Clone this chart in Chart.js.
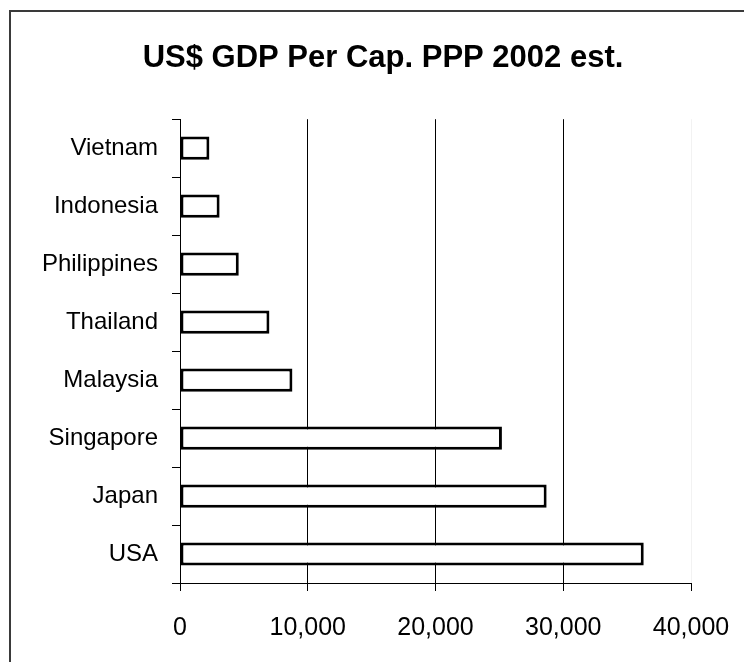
<!DOCTYPE html>
<html>
<head>
<meta charset="utf-8">
<script src="https://cdn.jsdelivr.net/npm/chart.js@4/dist/chart.umd.min.js"></script>
<style>
  html, body { margin: 0; padding: 0; background: #fff; overflow: hidden; }
</style>
</head>
<body>
<canvas id="gdpChart" width="800" height="662"></canvas>
<script>
const countries = ["Vietnam", "Indonesia", "Philippines", "Thailand", "Malaysia", "Singapore", "Japan", "USA"];
const gdpPerCap = [2300, 3100, 4600, 7000, 8800, 25200, 28700, 36300];
const xTicks = [0, 10000, 20000, 30000, 40000];

const FONT = "'Liberation Sans', Arial, sans-serif";

// dark frame on left and top edges, like the original picture
const framePlugin = {
    id: "frame",
    beforeDraw(chart) {
        const ctx = chart.ctx;
        ctx.save();
        ctx.fillStyle = "#fff";
        ctx.fillRect(0, 0, chart.width, chart.height);
        ctx.fillStyle = "#3a3a3a";
        ctx.fillRect(9, 10, 2, chart.height - 10);
        ctx.fillRect(9, 10, chart.width - 9, 2);
        ctx.restore();
    },
};

new Chart(document.getElementById("gdpChart"), {
    type: "bar",
    data: {
        labels: countries,
        datasets: [
            {
                label: "US$ GDP Per Cap. PPP 2002 est.",
                data: gdpPerCap,
                backgroundColor: "#fff",
                borderColor: "#000",
                borderWidth: 3,
                borderSkipped: false,
                barPercentage: 0.4,
                categoryPercentage: 1,
            },
        ],
    },
    options: {
        indexAxis: "y",
        responsive: false,
        animation: false,
        layout: { padding: { left: 12, right: 46, top: 0, bottom: 0 } },
        plugins: {
            legend: { display: false },
            tooltip: { enabled: false },
            title: {
                display: true,
                text: "US$ GDP Per Cap. PPP 2002 est.",
                color: "#000",
                font: { family: FONT, size: 31, weight: "bold", lineHeight: 1.2 },
                padding: { top: 40, bottom: 42 },
            },
        },
        scales: {
            x: {
                min: 0,
                max: 40000,
                afterBuildTicks(scale) {
                    scale.ticks = xTicks.map((v) => ({ value: v }));
                },
                afterFit(scale) {
                    scale.height = 79;
                    scale.paddingLeft = 0;
                    // keeps the plot's right edge at 40,000 = x 691
                    scale.paddingRight = 109;
                },
                border: { display: true, color: "#000", width: 1 },
                grid: {
                    drawOnChartArea: true,
                    color: (c) => (c.tick && c.tick.value === 40000 ? "#f2f2f2" : "#000"),
                    tickColor: "#000",
                    tickLength: 8,
                    lineWidth: 1,
                },
                ticks: {
                    color: "#000",
                    padding: 22,
                    font: { family: FONT, size: 25 },
                    callback: (v) => Number(v).toLocaleString("en-US"),
                },
            },
            y: {
                afterFit(scale) {
                    scale.width = 168;
                },
                border: { display: true, color: "#000", width: 1 },
                grid: {
                    offset: true,
                    drawOnChartArea: false,
                    tickColor: "#000",
                    tickLength: 8,
                },
                ticks: {
                    color: "#000",
                    padding: 14,
                    font: { family: FONT, size: 24 },
                },
            },
        },
    },
    plugins: [framePlugin],
});
</script>
</body>
</html>
